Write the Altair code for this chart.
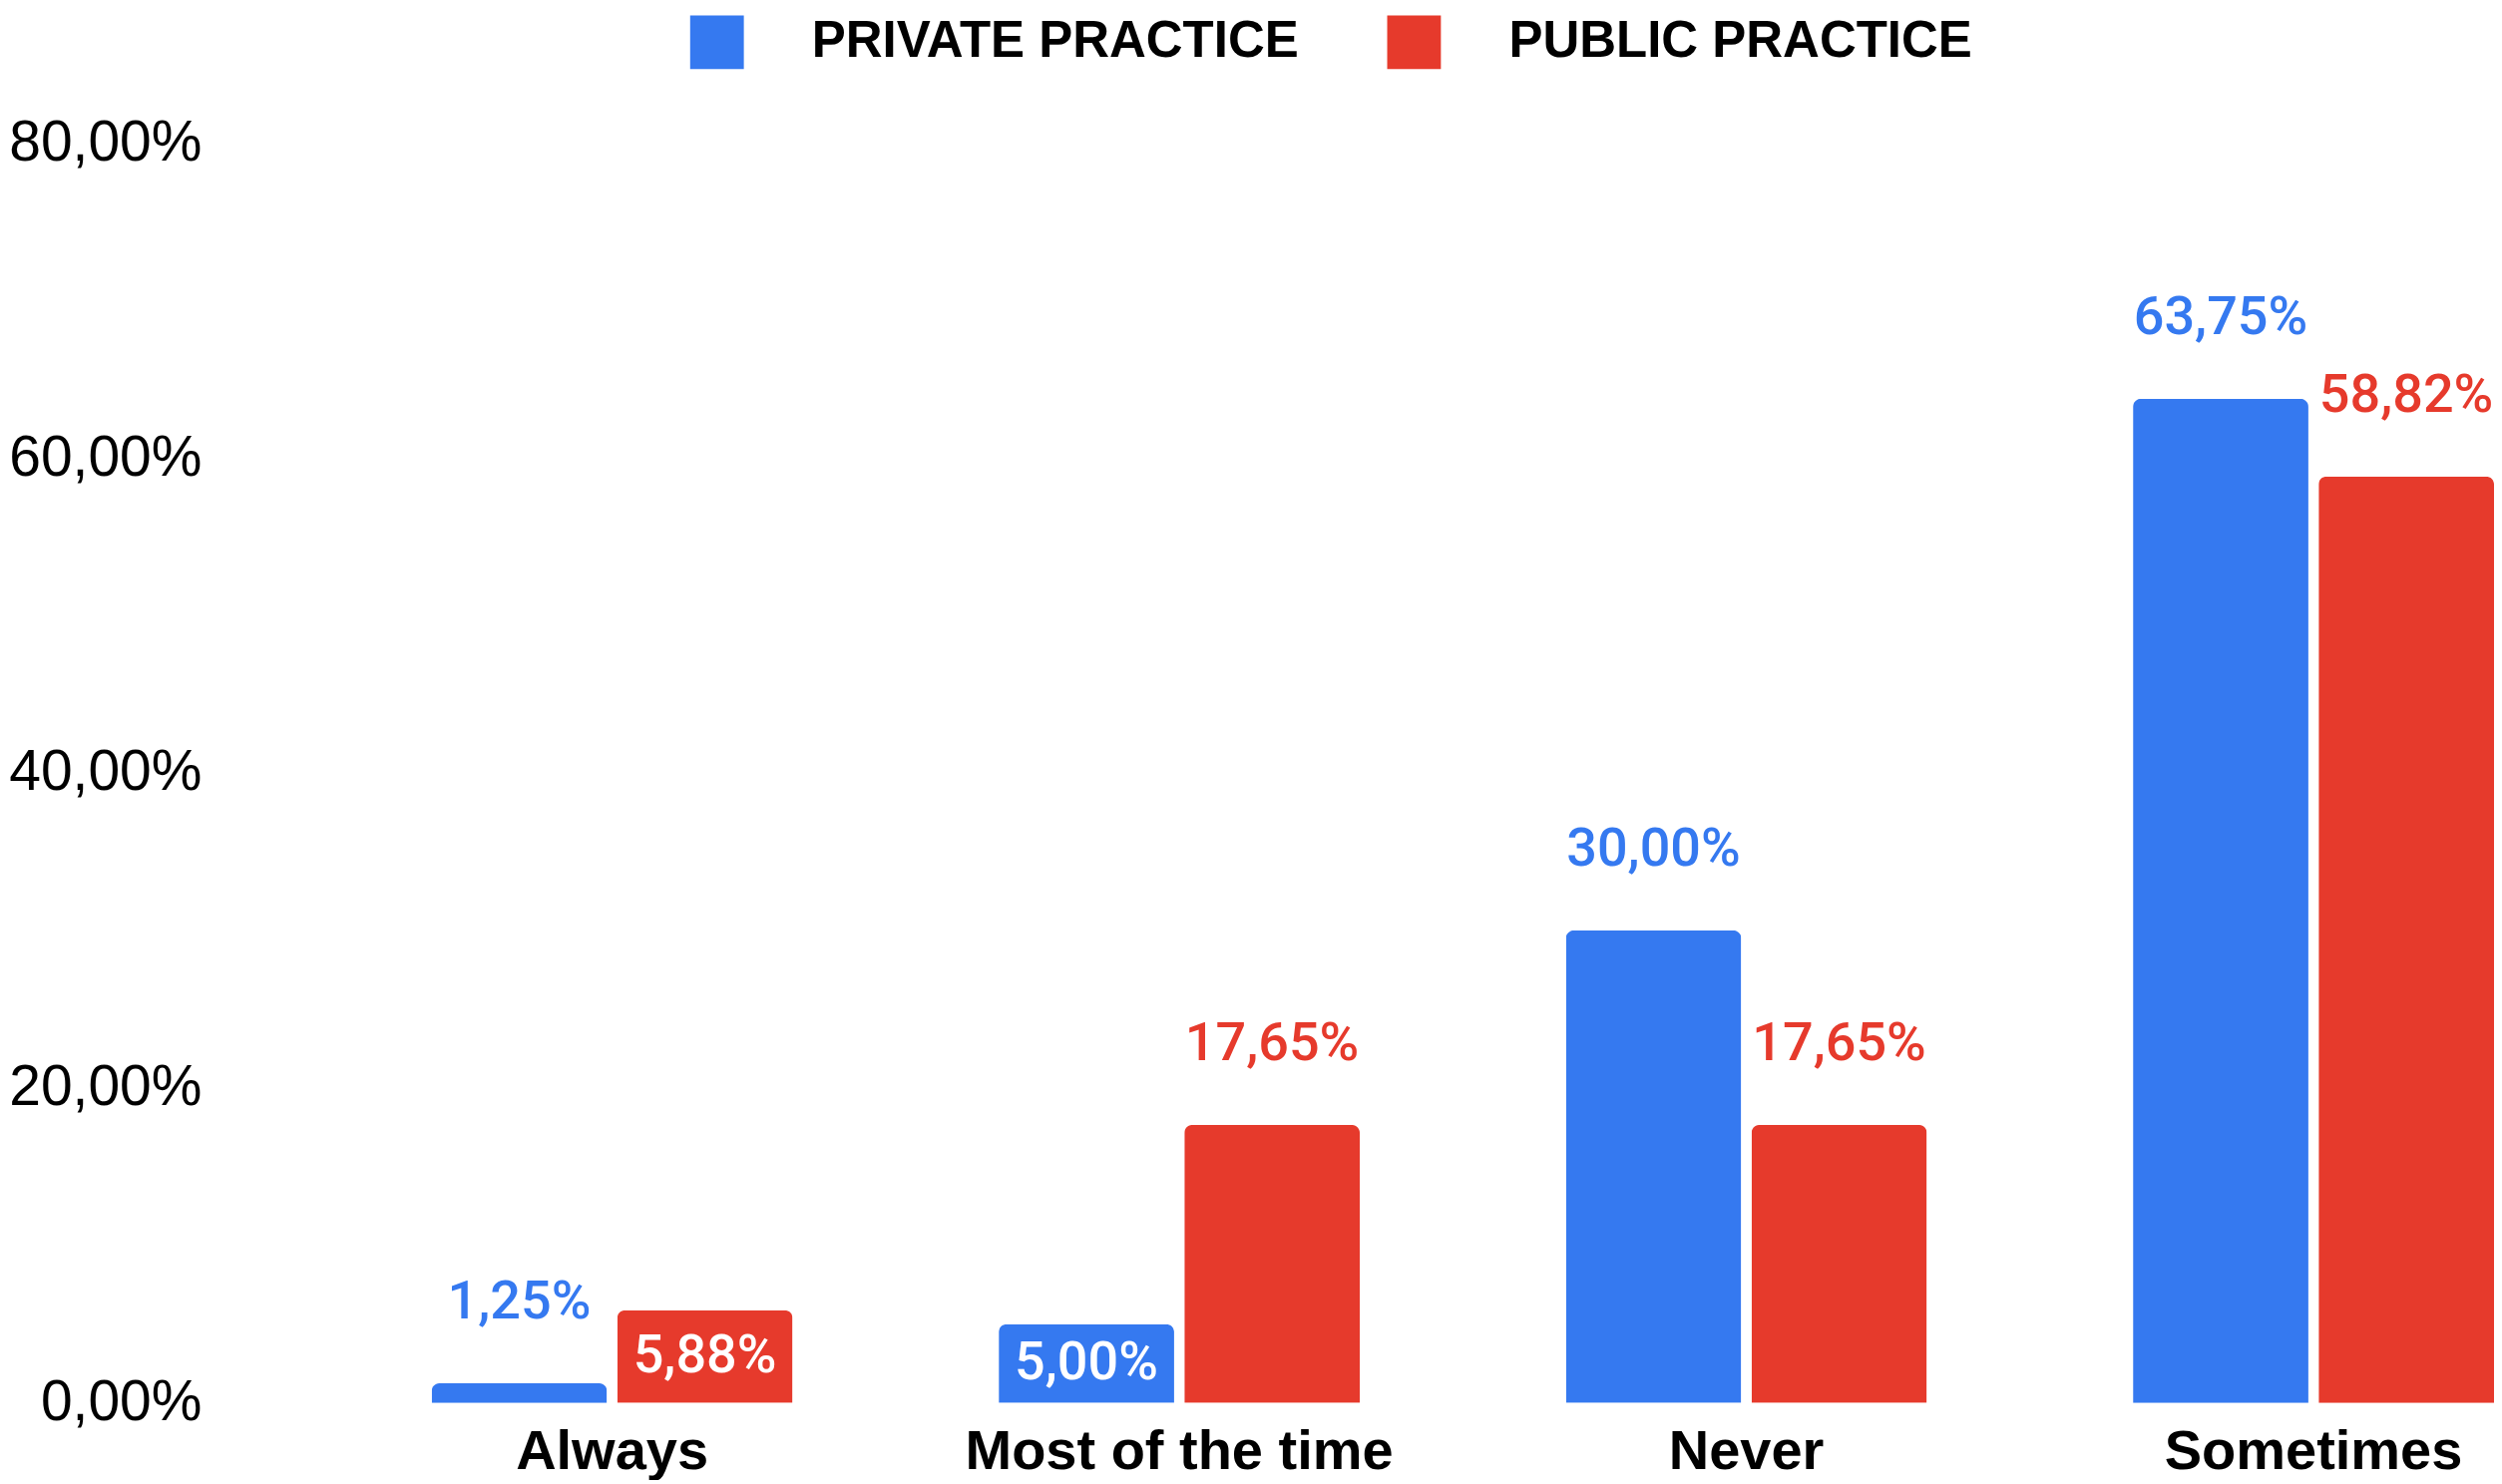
import altair as alt
import pandas as pd

categories = ["Always", "Most of the time", "Never", "Sometimes"]
series = ["PRIVATE PRACTICE", "PUBLIC PRACTICE"]
private_values = [1.25, 5.00, 30.00, 63.75]
public_values = [5.88, 17.65, 17.65, 58.82]
y_ticks = [0, 20, 40, 60, 80]
colors = ["#3579F0", "#E63A2C"]

rows = []
for i, c in enumerate(categories):
    rows.append({"category": c, "series": series[0], "value": private_values[i]})
    rows.append({"category": c, "series": series[1], "value": public_values[i]})
df = pd.DataFrame(rows)

base = alt.Chart(df).transform_calculate(
    label="replace(format(datum.value, '.2f'), '.', ',') + '%'",
    inside="datum.value >= 4 && datum.value < 10",
    mid="datum.value / 2",
)

x = alt.X(
    "category:N",
    sort=categories,
    title=None,
    scale=alt.Scale(paddingInner=0.3634, paddingOuter=0.195, align=1),
    axis=alt.Axis(
        labelFont="Liberation Sans",
        labelFontWeight="bold",
        labelFontSize=56,
        labelColor="black",
        labelPadding=22,
        labelAngle=0,
        labelLimit=0,
        ticks=False,
        domain=False,
        grid=False,
    ),
)
xoff = alt.XOffset(
    "series:N", sort=series, scale=alt.Scale(paddingInner=0.055, paddingOuter=0)
)
y_axis = alt.Axis(
    values=y_ticks,
    labelExpr="replace(format(datum.value, '.2f'), '.', ',') + '%'",
    labelFont="Liberation Sans",
    labelFontSize=57,
    labelColor="black",
    labelPadding=9,
    labelFlush=False,
    labelLimit=0,
    ticks=False,
    domain=False,
    grid=False,
)
y_scale = alt.Scale(domain=[0, 80], nice=False)
y = alt.Y("value:Q", title=None, scale=y_scale, axis=y_axis)
color = alt.Color(
    "series:N",
    sort=series,
    scale=alt.Scale(domain=series, range=colors),
    legend=alt.Legend(
        orient="none",
        legendX=481,
        legendY=-128,
        direction="horizontal",
        title=None,
        symbolType="square",
        symbolSize=2900,
        symbolStrokeWidth=0,
        labelFont="Liberation Sans",
        labelFontWeight="bold",
        labelFontSize=51,
        labelColor="black",
        labelLimit=0,
        labelOffset=68,
        columnPadding=88,
        padding=0,
    ),
)

bars = base.mark_bar(cornerRadiusTopLeft=8, cornerRadiusTopRight=8).encode(
    x=x, xOffset=xoff, y=y, color=color
)

outside = base.transform_filter("!datum.inside").mark_text(
    dy=-81, baseline="middle", font="Roboto", fontWeight=500, fontSize=54
).encode(
    x=x,
    xOffset=xoff,
    y=alt.Y("value:Q", title=None, scale=y_scale, axis=y_axis),
    text="label:N",
    color=color,
)

inside = base.transform_filter("datum.inside").mark_text(
    baseline="middle", font="Roboto", fontWeight=500, fontSize=54, color="white"
).encode(
    x=x,
    xOffset=xoff,
    y=alt.Y("mid:Q", title=None, scale=y_scale, axis=y_axis),
    text="label:N",
)

chart = (
    alt.layer(bars, outside, inside)
    .properties(
        width=2290,
        height=1264,
        padding={"left": 0, "top": 7, "right": 0, "bottom": 0},
        background="white",
    )
    .configure_view(stroke=None)
)

chart.save("out.html", embed_options={"renderer": "svg", "actions": False})
